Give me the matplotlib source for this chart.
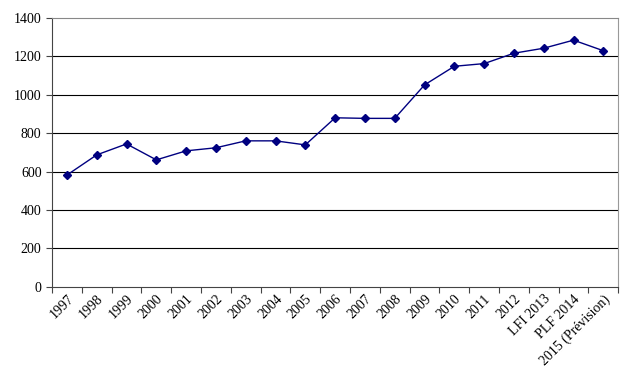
import matplotlib
matplotlib.use("Agg")
import matplotlib.pyplot as plt

labels = ["1997", "1998", "1999", "2000", "2001", "2002", "2003", "2004", "2005",
          "2006", "2007", "2008", "2009", "2010", "2011", "2012", "LFI 2013",
          "PLF 2014", "2015 (Prévision)"]
values = [582, 687, 744, 661, 708, 724, 760, 760, 739,
          880, 877, 877, 1051, 1148, 1162, 1216, 1242, 1284, 1229]

plt.rcParams['font.family'] = ['Liberation Serif', 'DejaVu Serif']

fig = plt.figure(figsize=(6.27, 3.8), dpi=100)
ax = fig.add_axes([0.083, 0.245, 0.903, 0.708])

x = range(len(values))
ax.plot(x, values, color='#000080', lw=1, marker='D', markersize=4.5,
        markerfacecolor='#000080', markeredgecolor='#000080', zorder=3)

ax.set_ylim(0, 1400)
ax.set_yticks(range(0, 1401, 200))
ax.set_xlim(-0.5, len(values) - 0.5)
for yv in range(200, 1400, 200):
    ax.axhline(yv, color='black', lw=0.8, zorder=1)

# ticks between categories, labels centred under the points
ax.set_xticks([i - 0.5 for i in range(len(values) + 1)])
ax.set_xticklabels([])
ax.set_xticks(list(x), minor=True)
ax.set_xticklabels(labels, minor=True, rotation=45, ha='right',
                   rotation_mode='anchor', fontsize=10)
ax.tick_params(axis='x', which='minor', length=0, pad=4)
ax.tick_params(axis='x', which='major', length=4, direction='out', color='#444444')
ax.tick_params(axis='y', length=4, direction='out', labelsize=10, color='#444444')

ax.spines['top'].set_color('#888888')
ax.spines['right'].set_color('#999999')
ax.spines['left'].set_color('#444444')
ax.spines['bottom'].set_color('#444444')

fig.savefig("out.png", dpi=100)
